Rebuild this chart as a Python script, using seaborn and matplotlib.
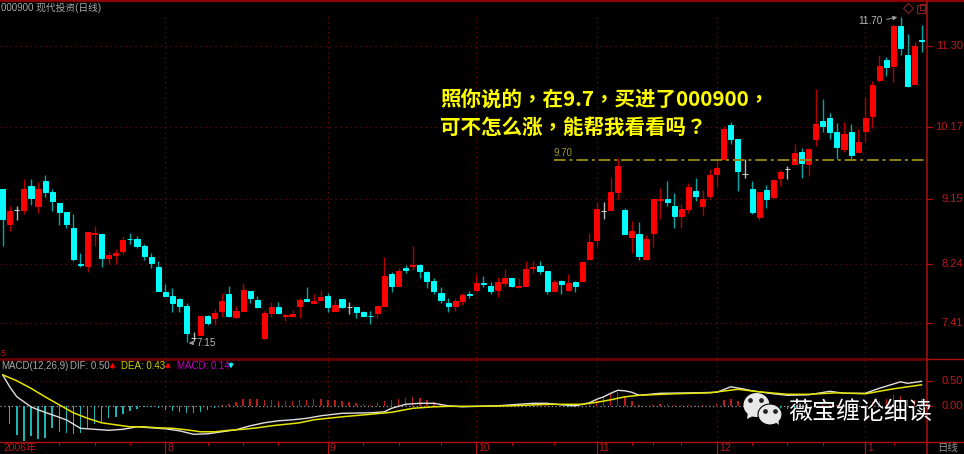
import matplotlib
matplotlib.use('Agg')
import matplotlib.pyplot as plt
from matplotlib.patches import Ellipse, Polygon
import numpy as np
import pandas as pd
import seaborn as sns

opens = [9.30, 8.80, 9.00, 9.00, 9.34, 9.06, 9.41, 9.25, 9.10, 8.97,
         8.75, 8.24, 8.22, 8.67, 8.66, 8.32, 8.37, 8.42, 8.60, 8.59,
         8.50, 8.34, 8.20, 7.85, 7.79, 7.75, 7.66, 7.20, 7.24, 7.51,
         7.49, 7.58, 7.82, 7.50, 7.59, 7.86, 7.74, 7.20, 7.55, 7.64,
         7.51, 7.51, 7.65, 7.75, 7.70, 7.74, 7.79, 7.59, 7.75, 7.64,
         7.64, 7.57, 7.52, 7.55, 7.65, 8.10, 7.94, 8.19, 8.21, 8.23,
         8.13, 8.00, 7.84, 7.69, 7.65, 7.72, 7.82, 7.88, 7.97, 7.94,
         7.88, 7.98, 8.04, 7.92, 7.94, 8.18, 8.21, 8.15, 7.86, 8.00,
         7.88, 7.99, 8.01, 8.31, 8.58, 8.98, 9.00, 9.25, 9.00, 8.62,
         8.67, 8.31, 8.68, 9.14, 9.15, 9.06, 8.92, 9.02, 9.27, 9.06,
         9.19, 9.51, 9.71, 10.19, 10.00, 9.50, 9.30, 8.90, 9.28, 9.18,
         9.45, 9.58, 9.65, 9.82, 9.65, 9.99, 10.25, 10.29, 10.09, 9.86,
         10.09, 9.82, 10.11, 10.32, 10.83, 11.10, 11.02, 11.58, 11.17, 10.77, 11.38]
closes = [8.87, 8.99, 9.00, 9.30, 9.17, 9.30, 9.25, 9.13, 8.97, 8.81,
          8.31, 8.23, 8.69, 8.68, 8.33, 8.37, 8.40, 8.58, 8.59, 8.50,
          8.35, 8.26, 7.86, 7.80, 7.69, 7.65, 7.28, 7.20, 7.51, 7.42,
          7.55, 7.72, 7.51, 7.59, 7.88, 7.76, 7.64, 7.55, 7.64, 7.55,
          7.53, 7.54, 7.74, 7.72, 7.72, 7.78, 7.64, 7.67, 7.64, 7.64,
          7.57, 7.51, 7.51, 7.65, 8.07, 7.94, 8.14, 8.16, 8.23, 8.14,
          8.00, 7.87, 7.74, 7.65, 7.72, 7.81, 7.81, 7.97, 7.96, 7.87,
          7.99, 8.05, 7.93, 7.93, 8.17, 8.20, 8.14, 7.86, 7.99, 7.96,
          7.98, 7.93, 8.27, 8.55, 9.01, 8.98, 9.25, 9.62, 8.66, 8.71,
          8.36, 8.59, 9.15, 9.15, 9.11, 8.92, 9.02, 9.32, 9.20, 9.15,
          9.49, 9.59, 10.14, 10.00, 9.54, 9.50, 8.97, 9.25, 9.15, 9.42,
          9.53, 9.58, 9.80, 9.66, 9.85, 10.20, 10.18, 10.09, 9.89, 10.06,
          9.77, 9.96, 10.29, 10.75, 11.02, 11.01, 11.58, 11.27, 10.74, 11.30, 11.37]
highs = [9.30, 9.06, 9.06, 9.43, 9.43, 9.39, 9.49, 9.30, 9.10, 8.97,
         8.94, 8.40, 8.69, 8.78, 8.66, 8.41, 8.45, 8.63, 8.68, 8.63,
         8.52, 8.39, 8.29, 7.96, 7.90, 7.76, 7.69, 7.29, 7.53, 7.53,
         7.61, 7.83, 7.94, 7.65, 7.98, 7.86, 7.79, 7.58, 7.71, 7.71,
         7.55, 7.60, 7.76, 7.92, 7.82, 7.88, 7.84, 7.74, 7.75, 7.71,
         7.64, 7.58, 7.58, 7.65, 8.34, 8.13, 8.19, 8.23, 8.50, 8.24,
         8.14, 8.04, 7.92, 7.77, 7.76, 7.83, 7.86, 8.10, 8.07, 7.99,
         8.06, 8.17, 8.04, 8.04, 8.29, 8.28, 8.28, 8.15, 8.02, 8.02,
         8.10, 8.00, 8.27, 8.68, 9.11, 9.11, 9.46, 9.73, 9.03, 8.84,
         8.83, 8.65, 9.15, 9.31, 9.41, 9.24, 9.08, 9.38, 9.45, 9.28,
         9.58, 9.72, 10.18, 10.24, 10.00, 9.71, 9.40, 9.25, 9.35, 9.43,
         9.56, 9.62, 9.93, 9.87, 9.85, 10.69, 10.56, 10.36, 10.22, 10.24,
         10.20, 10.13, 10.58, 10.81, 11.17, 11.15, 11.61, 11.70, 11.47, 11.35, 11.59]
lows = [8.50, 8.70, 8.86, 8.94, 9.07, 8.96, 9.18, 8.98, 8.79, 8.75,
        8.28, 8.20, 8.13, 8.50, 8.20, 8.24, 8.24, 8.38, 8.52, 8.47,
        8.30, 8.19, 7.86, 7.80, 7.57, 7.57, 7.15, 7.16, 7.24, 7.38,
        7.39, 7.50, 7.50, 7.49, 7.59, 7.69, 7.62, 7.19, 7.50, 7.54,
        7.44, 7.50, 7.49, 7.72, 7.69, 7.74, 7.57, 7.58, 7.62, 7.54,
        7.49, 7.51, 7.40, 7.49, 7.65, 7.85, 7.94, 8.12, 8.16, 8.05,
        7.91, 7.82, 7.69, 7.57, 7.58, 7.67, 7.77, 7.87, 7.92, 7.82,
        7.78, 7.94, 7.92, 7.90, 7.93, 8.12, 8.10, 7.82, 7.86, 7.82,
        7.87, 7.85, 8.00, 8.31, 8.50, 8.87, 9.00, 9.16, 8.66, 8.39,
        8.30, 8.31, 8.48, 8.87, 9.06, 8.75, 8.75, 8.96, 9.13, 8.92,
        9.15, 9.34, 9.70, 9.93, 9.26, 9.45, 8.95, 8.86, 9.03, 9.15,
        9.34, 9.43, 9.64, 9.45, 9.48, 9.90, 10.10, 9.99, 9.71, 9.81,
        9.71, 9.81, 9.95, 10.15, 10.79, 10.88, 10.79, 11.17, 10.72, 10.76, 11.21]

macd_hist = [0.00, -0.36, -0.57, -0.69, -0.59, -0.66, -0.64, -0.44, -0.51, -0.53,
             -0.55, -0.54, -0.44, -0.35, -0.31, -0.24, -0.22, -0.15, -0.09, -0.05,
             -0.01, -0.02, -0.04, -0.07, -0.09, -0.11, -0.14, -0.14, -0.12, -0.07,
             -0.03, 0.03, 0.05, 0.08, 0.14, 0.15, 0.15, 0.13, 0.13, 0.11,
             0.11, 0.11, 0.13, 0.13, 0.14, 0.14, 0.13, 0.12, 0.10, 0.09,
             0.07, 0.05, 0.03, 0.06, 0.10, 0.12, 0.15, 0.17, 0.19, 0.16,
             0.13, 0.09, 0.03, 0.00, -0.01, -0.01, -0.01, 0.00, 0.00, 0.00,
             0.01, 0.01, 0.01, 0.01, 0.03, 0.04, 0.04, 0.02, 0.01, 0.01,
             -0.01, -0.01, 0.01, 0.04, 0.14, 0.19, 0.25, 0.29, 0.20, 0.11,
             0.03, 0.01, 0.03, 0.05, 0.05, 0.02, 0.02, 0.02, 0.02, 0.02,
             0.03, 0.05, 0.13, 0.14, 0.11, 0.06, 0.02, -0.01, -0.02, -0.03,
             -0.05, -0.05, -0.03, -0.01, 0.01, 0.01, 0.02, 0.03, 0.02, 0.01,
             0.01, 0.01, 0.03, 0.08, 0.10, 0.14, 0.23, 0.21, 0.13, 0.13, 0.14]

dif_bar = [1, 2, 3, 4, 5, 6, 8, 10, 12, 14, 16, 18, 20, 22, 24, 26, 28, 30, 32, 34, 36, 38, 40, 42, 44,
           46, 49, 53, 55, 56, 58, 60, 62, 64, 66, 68, 71, 73, 76, 78, 80, 82, 84, 85, 86, 87, 88, 89, 90,
           91, 94, 99, 102, 104, 106, 107, 110, 112, 115, 118, 120, 123, 125, 128, 129, 131]
dif_vals = [0.63, 0.39, 0.19, 0.09, -0.01, -0.07, -0.17, -0.27, -0.44, -0.46, -0.48, -0.46, -0.41, -0.43,
            -0.45, -0.49, -0.56, -0.55, -0.51, -0.47, -0.39, -0.33, -0.29, -0.27, -0.24,
            -0.19, -0.14, -0.13, -0.11, -0.04, 0.04, 0.06, 0.06, 0.01, -0.01, 0.00, 0.01, 0.03, 0.06, 0.06,
            0.03, 0.01, 0.07, 0.14, 0.19, 0.26, 0.32, 0.31, 0.28,
            0.22, 0.26, 0.27, 0.28, 0.39, 0.34, 0.31, 0.25, 0.22, 0.23, 0.30, 0.26, 0.26, 0.36, 0.49, 0.46, 0.50]
dea_bar = [1, 2, 3, 5, 7, 9, 11, 13, 15, 17, 19, 21, 23, 25, 27, 29, 31, 33, 35, 37, 39, 41, 43, 45,
           49, 53, 56, 59, 62, 64, 68, 73, 78, 83, 85, 87, 89, 91, 96, 101, 105, 108, 112, 115, 119, 123, 127, 131]
dea_vals = [0.63, 0.57, 0.51, 0.36, 0.19, 0.03, -0.13, -0.24, -0.33, -0.37, -0.41, -0.41, -0.43, -0.44,
            -0.47, -0.51, -0.51, -0.48, -0.46, -0.43, -0.39, -0.36, -0.33, -0.27,
            -0.21, -0.16, -0.12, -0.04, -0.01, 0.00, 0.00, 0.01, 0.04, 0.04, 0.08, 0.13, 0.19, 0.22,
            0.25, 0.27, 0.34, 0.29, 0.24, 0.24, 0.27, 0.25, 0.35, 0.43]

price_ticks = [11.30, 10.17, 9.15, 8.24, 7.41]
macd_ticks = [0.50, 0.00]
month_bars = [23, 46, 67, 84, 101, 122]
month_labels = ['8', '9', '10', '11', '12', '1']
week_bars = [8, 13, 18, 29, 34, 39, 51, 56, 62, 72, 78, 89, 92, 96, 106, 111, 116, 126]
buy_level = 9.70

RED = '#ff0000'
CYAN = '#00ffff'
AXIS_RED = '#b01010'
GRID_RED = '#7a0808'
FONT = ['Liberation Sans', 'Noto Sans CJK SC']
CJK = ['Noto Sans CJK SC', 'DejaVu Sans']
CJK_TC = ['Noto Sans CJK TC', 'DejaVu Sans']

sns.set_theme(style='dark', rc={'axes.facecolor': 'black', 'figure.facecolor': 'black'})
plt.rcParams['font.family'] = FONT

W, H = 964, 454
fig = plt.figure(figsize=(W / 100, H / 100), dpi=100)


def px_axes(x0, y0, x1, y1):
    return fig.add_axes([x0 / W, 1 - y1 / H, (x1 - x0) / W, (y1 - y0) / H])


ax = px_axes(0, 2, 927, 358)
ax2 = px_axes(0, 359, 927, 442)

df = pd.DataFrame({'open': opens, 'close': closes, 'high': highs, 'low': lows, 'macd': macd_hist})
df['bar'] = np.arange(len(df))
df['kind'] = np.where(df['close'] > df['open'], 'up', np.where(df['close'] < df['open'], 'down', 'flat'))
body_col = {'up': RED, 'down': CYAN, 'flat': '#d8d8d8'}
wick_col = {'up': '#b00000', 'down': '#00a8a8', 'flat': '#b8b8b8'}

for kind, g in df.groupby('kind'):
    ax.vlines(g['bar'], g['low'], g['high'], color=wick_col[kind], lw=1.0, zorder=2)
    ax.bar(g['bar'], g['close'] - g['open'], bottom=g['open'], width=0.72,
           color=body_col[kind], edgecolor=body_col[kind], lw=0.7, zorder=3)

xlim = (-0.38, 130.74)
ax.set_xlim(xlim)
ax.set_ylim(6.924, 11.917)
for p in price_ticks:
    ax.axhline(p, color=GRID_RED, lw=0.9, ls=(0, (1, 3)), zorder=1)
for m in month_bars:
    ax.axvline(m, ymax=0.96, color=GRID_RED, lw=0.9, ls=(0, (1, 3)), zorder=1)
ax.plot([78, 130.74], [buy_level, buy_level], color='#8f8410', lw=1.4, ls=(0, (6, 2, 1.5, 2)), zorder=4)
ax.text(77.9, 9.80, '9.70', color='#a09a20', fontsize=7, va='center', ha='left')

# lower panel
df['sign'] = np.where(df['macd'] >= 0, 'pos', 'neg')
sns.barplot(data=df, x='bar', y='macd', hue='sign', palette={'pos': '#d80000', 'neg': '#00d0d0'},
            native_scale=True, width=0.2, dodge=False, legend=False, linewidth=0, ax=ax2, zorder=2)
ax2.axhline(0, color='#9a9a9a', lw=0.9, ls=(0, (1, 2)), zorder=1)
ax2.axhline(0.5, color=GRID_RED, lw=0.9, ls=(0, (1, 3)), zorder=1)
for m in month_bars:
    ax2.axvline(m, color=GRID_RED, lw=0.9, ls=(0, (1, 3)), zorder=1)
sns.lineplot(x=np.array(dea_bar) - 1, y=dea_vals, color='#e4e400', lw=1.1, ax=ax2, zorder=4)
sns.lineplot(x=np.array(dif_bar) - 1, y=dif_vals, color='#e0e0e0', lw=1.0, ax=ax2, zorder=3)
ax2.set_xlim(xlim)
ax2.set_ylim(-0.714, 0.946)

for a in (ax, ax2):
    a.set_facecolor('black')
    a.set_xlabel('')
    a.set_ylabel('')
    a.set_xticks([])
    a.set_yticks([])
    a.grid(False)
    for s in a.spines.values():
        s.set_visible(False)

# frame, labels and overlay in pixel coordinates
ov = fig.add_axes([0, 0, 1, 1], zorder=5)
ov.set_xlim(0, W)
ov.set_ylim(H, 0)
ov.axis('off')
ov.patch.set_visible(False)


def bar_px(b):
    return 2.7 + 7.07 * b


def price_px(p):
    return 46 + (11.30 - p) * 71.3


ov.plot([0, W], [1, 1], color='#8a0000', lw=1.6)
ov.plot([0, 927], [359, 359], color='#6a0000', lw=2.0)
ov.plot([927, W], [359, 359], color=AXIS_RED, lw=1.0)
ov.plot([0, W], [442.3, 442.3], color=AXIS_RED, lw=1.0)
ov.plot([927, 927], [0, H], color=AXIS_RED, lw=1.1)

for p in price_ticks:
    y = price_px(p)
    ov.plot([927, 932], [y, y], color=AXIS_RED, lw=0.9)
    ov.text(963, y, f'{p:.2f}', color='#c01818', fontsize=8, ha='right', va='center')
for v in macd_ticks:
    y = 406.3 - v * 50
    ov.plot([927, 932], [y, y], color=AXIS_RED, lw=0.9)
    ov.text(963, y, f'{v:.2f}', color='#c01818', fontsize=8, ha='right', va='center')

ov.text(3, 448, '2006年', color='#b81818', fontsize=7.4, ha='left', va='center')
for m, lab in zip(month_bars, month_labels):
    x = bar_px(m)
    ov.plot([x, x], [442, H], color=AXIS_RED, lw=0.9)
    ov.text(x + 2, 448, lab, color='#b81818', fontsize=7.6, ha='left', va='center')
for w in week_bars:
    x = bar_px(w)
    ov.plot([x, x], [442, 445], color=AXIS_RED, lw=0.7)
ov.text(937, 447.5, '日线', color='#909090', fontsize=7.5, ha='left', va='center')

ov.text(1, 8, '000900 现代投资(日线)', color='#a8a8a8', fontsize=7, ha='left', va='center')
ov.text(1, 353.5, '5', color='#c01818', fontsize=6.5, ha='left', va='center')

ov.text(1, 366, 'MACD(12,26,9)', color='#a8a8a8', fontsize=7, ha='left', va='center')
ov.text(70, 366, 'DIF: 0.50', color='#a8a8a8', fontsize=7, ha='left', va='center')
ov.text(121, 366, 'DEA: 0.43', color='#d0d000', fontsize=7, ha='left', va='center')
ov.text(177, 366, 'MACD: 0.14', color='#c000c0', fontsize=7, ha='left', va='center')
ov.annotate('', xy=(112.5, 360), xytext=(112.5, 371), arrowprops=dict(arrowstyle='-|>,head_width=0.12,head_length=0.2', color=RED, lw=0.8))
ov.annotate('', xy=(168, 360), xytext=(168, 371), arrowprops=dict(arrowstyle='-|>,head_width=0.12,head_length=0.2', color=RED, lw=0.8))
ov.annotate('', xy=(231, 371), xytext=(231, 360), arrowprops=dict(arrowstyle='-|>,head_width=0.12,head_length=0.2', color=CYAN, lw=0.8))

ov.text(197, 343.5, '7.15', color='#b8b8b8', fontsize=7.2, ha='left', va='center')
ov.annotate('', xy=(186, 343), xytext=(196, 343), arrowprops=dict(arrowstyle='-|>,head_width=0.1,head_length=0.2', color='#a0a0a0', lw=0.7))
ov.text(858, 21, '11.70', color='#b8b8b8', fontsize=7.2, ha='left', va='center')
ov.annotate('', xy=(900, 16.5), xytext=(884, 20), arrowprops=dict(arrowstyle='-|>,head_width=0.1,head_length=0.2', color='#a0a0a0', lw=0.7))

ov.plot([908], [8], marker='D', ms=5.5, mfc='none', mec='#8a2020', mew=0.8)
ov.plot([920.5], [9], marker='s', ms=5.5, mfc='none', mec='#8a2020', mew=0.8)
ov.plot([922.5], [7], marker='s', ms=5, mfc='none', mec='#8a2020', mew=0.8)

ov.text(440, 99, '照你说的，在9.7，买进了000900，', color='#ffff00', fontsize=14.8, fontweight='bold',
        family=CJK_TC, ha='left', va='center')
ov.text(440, 127.5, '可不怎么涨，能帮我看看吗？', color='#ffff00', fontsize=14.8, fontweight='bold',
        family=CJK_TC, ha='left', va='center')

# wechat badge
ov.add_patch(Ellipse((756.5, 405), 26, 24, fc='#e8e8e8', ec='none'))
ov.add_patch(Polygon([[748, 412], [747, 419], [755, 415]], fc='#e8e8e8', ec='none'))
ov.add_patch(Ellipse((770, 414.5), 24, 21, fc='#e8e8e8', ec='black', lw=0.8))
ov.add_patch(Polygon([[774, 421], [779, 425], [778, 418]], fc='#e8e8e8', ec='none'))
for ex, ey in [(750, 400), (761, 400), (765, 411), (775, 411)]:
    ov.plot([ex], [ey], marker='o', ms=2.4, color='#202020')

ov.text(788, 412, '薇宝缠论细读', color='white', fontsize=17.3, family=CJK, ha='left', va='center')

fig.savefig('out.png', dpi=100, facecolor='black')
plt.close(fig)
